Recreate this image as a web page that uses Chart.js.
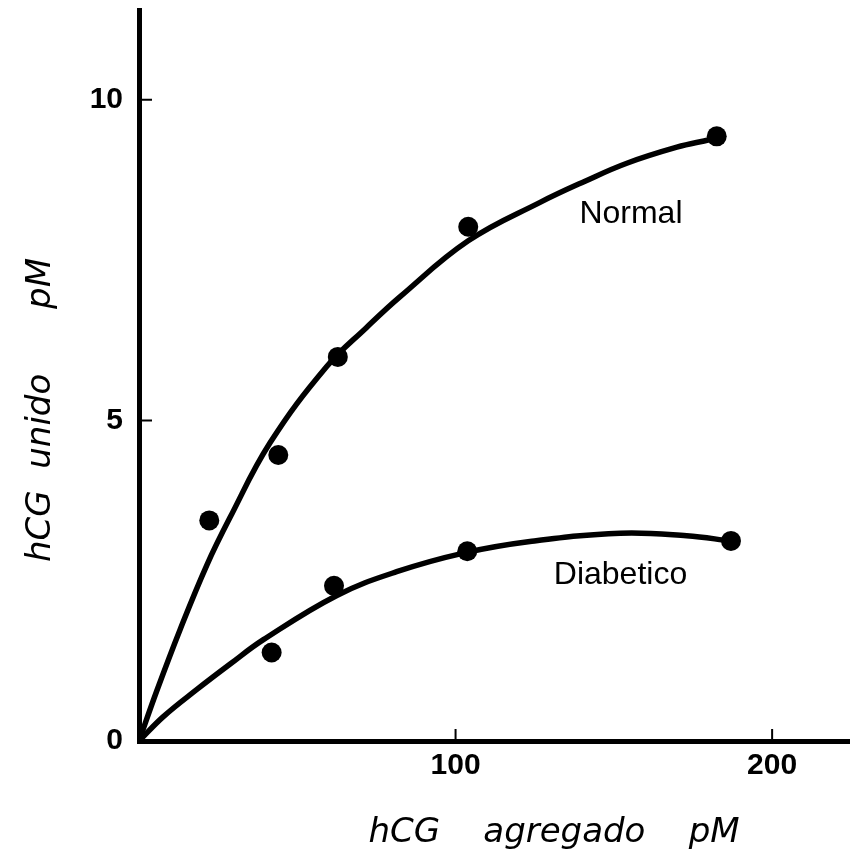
<!DOCTYPE html>
<html><head><meta charset="utf-8">
<script src="https://cdn.jsdelivr.net/npm/chart.js@4.4.0/dist/chart.umd.min.js"></script>
<style>html,body{margin:0;padding:0;background:#fff;overflow:hidden}#wrap{width:850px;height:868px;position:relative}</style>
</head><body><div id="wrap"><canvas id="c"></canvas></div>
<script>
// ---- data ----
const xTickValues = [100, 200];
const yTickValues = [0, 5, 10];
const seriesNames = ['Normal', 'Diabetico'];
const normalX = [22.2, 44.0, 62.8, 104.0, 182.5];
const normalY = [3.44, 4.46, 5.99, 8.02, 9.43];
const diabeticX = [41.9, 61.6, 103.7, 187.0];
const diabeticY = [1.38, 2.42, 2.96, 3.12];
const normalCurveX = [0, 5.6, 13.0, 21.4, 28.7, 41.4, 59.3, 71.9, 82.5, 104.0, 126.7, 140.9, 154.1, 169.9, 180.4, 182.5];
const normalCurveY = [0, 0.78, 1.74, 2.74, 3.48, 4.65, 5.84, 6.45, 6.93, 7.80, 8.40, 8.73, 9.01, 9.26, 9.38, 9.41];
const diabeticCurveX = [0, 7.7, 18.2, 28.8, 39.3, 62.5, 81.4, 102.5, 123.5, 152.0, 173.0, 187.0];
const diabeticCurveY = [0, 0.38, 0.80, 1.20, 1.58, 2.27, 2.64, 2.93, 3.11, 3.24, 3.20, 3.12];
const nameX = [155.4, 152.1];
const nameY = [8.21, 2.59];
const xTitle = 'hCG    agregado    pM';
const yTitle = 'hCG  unido      pM';

const pts = (xs, ys) => xs.map((x, i) => ({x: x, y: ys[i]}));
const tickFont = {family: "'Liberation Sans', Arial, sans-serif", size: 30, weight: 'bold'};

const tickMarks = {
  id: 'tickMarks',
  afterDraw(chart) {
    const {ctx, chartArea: a, scales: {x, y}} = chart;
    ctx.save();
    ctx.strokeStyle = '#000'; ctx.lineWidth = 2;
    ctx.beginPath();
    yTickValues.forEach(v => { if (v === 0) return; const p = y.getPixelForValue(v); ctx.moveTo(a.left, p); ctx.lineTo(a.left + 13, p); });
    xTickValues.forEach(v => { const p = x.getPixelForValue(v); ctx.moveTo(p, a.bottom); ctx.lineTo(p, a.bottom - 12); });
    ctx.stroke();
    ctx.restore();
  }
};
const seriesLabels = {
  id: 'seriesLabels',
  afterDatasetsDraw(chart) {
    const {ctx, scales: {x, y}} = chart;
    ctx.save();
    ctx.fillStyle = '#000';
    ctx.font = "32px 'Liberation Sans', Arial, sans-serif";
    ctx.textAlign = 'center'; ctx.textBaseline = 'middle';
    seriesNames.forEach((n, i) => ctx.fillText(n, x.getPixelForValue(nameX[i]), y.getPixelForValue(nameY[i])));
    ctx.restore();
  }
};
const axisTitles = {
  id: 'axisTitles',
  afterDraw(chart) {
    const {ctx, chartArea: a} = chart;
    ctx.save();
    ctx.fillStyle = '#000';
    ctx.font = "oblique 34px 'DejaVu Sans', sans-serif";
    ctx.textAlign = 'center'; ctx.textBaseline = 'alphabetic';
    ctx.fillText(xTitle, a.left + 415, a.bottom + 101);
    ctx.translate(a.left - 89, a.top + 400);
    ctx.rotate(-Math.PI / 2);
    ctx.fillText(yTitle, 0, 0);
    ctx.restore();
  }
};
const noPad = s => { s.paddingTop = 0; s.paddingBottom = 0; s.paddingLeft = 0; s.paddingRight = 0; };
const curveStyle = {showLine: true, borderColor: '#000', borderWidth: 5.5, pointRadius: 0, tension: 0.4, fill: false};
const pointStyle = {showLine: false, pointRadius: 10, pointBackgroundColor: '#000', pointBorderColor: '#000', pointBorderWidth: 0};

new Chart(document.getElementById('c'), {
  type: 'scatter',
  data: {
    datasets: [
      Object.assign({label: seriesNames[0] + ' curve', data: pts(normalCurveX, normalCurveY)}, curveStyle),
      Object.assign({label: seriesNames[1] + ' curve', data: pts(diabeticCurveX, diabeticCurveY)}, curveStyle),
      Object.assign({label: seriesNames[0], data: pts(normalX, normalY)}, pointStyle),
      Object.assign({label: seriesNames[1], data: pts(diabeticX, diabeticY)}, pointStyle)
    ]
  },
  options: {
    responsive: true, maintainAspectRatio: false, animation: false,
    layout: {autoPadding: false, padding: {top: 10, right: 0, left: 0, bottom: 0}},
    plugins: {legend: {display: false}, tooltip: {enabled: false}},
    scales: {
      x: {
        type: 'linear', min: 0, max: 224.6,
        afterBuildTicks: s => { s.ticks = xTickValues.map(v => ({value: v})); },
        afterFit: s => { s.height = 127; noPad(s); },
        grid: {display: false, drawTicks: false},
        border: {display: true, color: '#000', width: 5},
        ticks: {color: '#000', font: tickFont, padding: 7, maxRotation: 0, autoSkip: false}
      },
      y: {
        type: 'linear', min: 0, max: 11.4,
        afterBuildTicks: s => { s.ticks = yTickValues.map(v => ({value: v})); },
        afterFit: s => { s.width = 139; noPad(s); },
        grid: {display: false, drawTicks: false},
        border: {display: true, color: '#000', width: 5},
        ticks: {color: '#000', font: tickFont, padding: 16, autoSkip: false}
      }
    }
  },
  plugins: [tickMarks, seriesLabels, axisTitles]
});
</script>
</body></html>
